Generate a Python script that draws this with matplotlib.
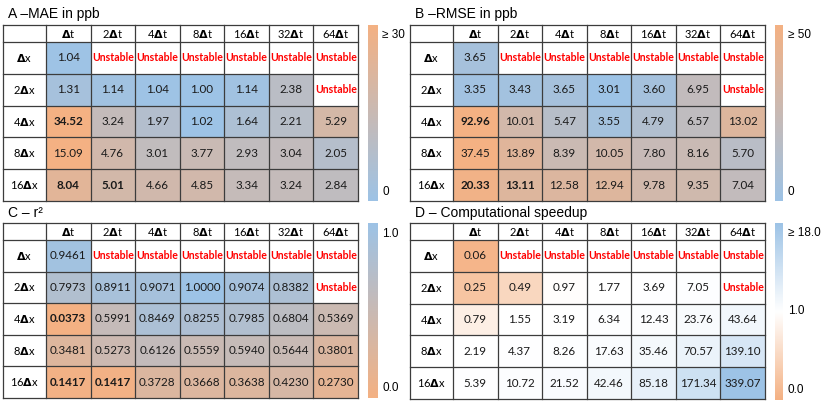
import numpy as np
import matplotlib.pyplot as plt
from matplotlib.colors import LinearSegmentedColormap, LogNorm, Normalize, TwoSlopeNorm

nan = np.nan

# --- data (NaN = "Unstable") ---
col_labels = [r'$\mathbf{\Delta}$t', r'2$\mathbf{\Delta}$t', r'4$\mathbf{\Delta}$t', r'8$\mathbf{\Delta}$t',
              r'16$\mathbf{\Delta}$t', r'32$\mathbf{\Delta}$t', r'64$\mathbf{\Delta}$t']
row_labels = [r'$\mathbf{\Delta}$x', r'2$\mathbf{\Delta}$x', r'4$\mathbf{\Delta}$x',
              r'8$\mathbf{\Delta}$x', r'16$\mathbf{\Delta}$x']

mae = [[1.04, nan, nan, nan, nan, nan, nan],
       [1.31, 1.14, 1.04, 1.00, 1.14, 2.38, nan],
       [34.52, 3.24, 1.97, 1.02, 1.64, 2.21, 5.29],
       [15.09, 4.76, 3.01, 3.77, 2.93, 3.04, 2.05],
       [8.04, 5.01, 4.66, 4.85, 3.34, 3.24, 2.84]]

rmse = [[3.65, nan, nan, nan, nan, nan, nan],
        [3.35, 3.43, 3.65, 3.01, 3.60, 6.95, nan],
        [92.96, 10.01, 5.47, 3.55, 4.79, 6.57, 13.02],
        [37.45, 13.89, 8.39, 10.05, 7.80, 8.16, 5.70],
        [20.33, 13.11, 12.58, 12.94, 9.78, 9.35, 7.04]]

r2 = [[0.9461, nan, nan, nan, nan, nan, nan],
      [0.7973, 0.8911, 0.9071, 1.0000, 0.9074, 0.8382, nan],
      [0.0373, 0.5991, 0.8469, 0.8255, 0.7985, 0.6804, 0.5369],
      [0.3481, 0.5273, 0.6126, 0.5559, 0.5940, 0.5644, 0.3801],
      [0.1417, 0.1417, 0.3728, 0.3668, 0.3638, 0.4230, 0.2730]]

speedup = [[0.06, nan, nan, nan, nan, nan, nan],
           [0.25, 0.49, 0.97, 1.77, 3.69, 7.05, nan],
           [0.79, 1.55, 3.19, 6.34, 12.43, 23.76, 43.64],
           [2.19, 4.37, 8.26, 17.63, 35.46, 70.57, 139.10],
           [5.39, 10.72, 21.52, 42.46, 85.18, 171.34, 339.07]]

# highlighted (bold) cells, (row, col)
bold_err = [(2, 0), (4, 0), (4, 1)]

BLUE = '#9dc3e6'
ORANGE = '#f4b183'
LINE = '#3c3c3c'
CELL_FONT = ['Lato', 'DejaVu Sans']
LABEL_FONT = ['Liberation Sans', 'DejaVu Sans']
FS = 8.4

cmap_err = LinearSegmentedColormap.from_list('err', [BLUE, ORANGE])
cmap_r2 = LinearSegmentedColormap.from_list('r2', [ORANGE, BLUE])
cmap_sp = LinearSegmentedColormap.from_list('sp', [ORANGE, 'white', BLUE])
for c in (cmap_err, cmap_r2, cmap_sp):
    c.set_bad('white')

W, H = 830, 405
fig = plt.figure(figsize=(8.3, 4.05), dpi=100)


def px_axes(x0, y0, x1, y1):
    return fig.add_axes([x0 / W, 1 - y1 / H, (x1 - x0) / W, (y1 - y0) / H])


def draw_table(box, values, norm, cmap, fmt, bold):
    ax = px_axes(*box)
    w = box[2] - box[0]
    h = box[3] - box[1]
    xe = np.linspace(43, w, 8)
    ye = np.linspace(17, h, 6)
    data = np.ma.masked_invalid(np.array(values))
    ax.pcolormesh(xe, ye, data, cmap=cmap, norm=norm)
    ax.set_xlim(0, w)
    ax.set_ylim(h, 0)
    ax.axis('off')

    for x in np.r_[0, xe]:
        ax.plot([x, x], [0, h], color=LINE, lw=0.9, clip_on=False)
    for y in np.r_[0, ye]:
        ax.plot([0, w], [y, y], color=LINE, lw=0.9, clip_on=False)

    for j, lab in enumerate(col_labels):
        ax.text((xe[j] + xe[j + 1]) / 2, 8.5, lab, ha='center', va='center',
                fontsize=FS - 0.4, family=CELL_FONT)
    for i, lab in enumerate(row_labels):
        yc = (ye[i] + ye[i + 1]) / 2
        ax.text(21.5, yc, lab, ha='center', va='center', fontsize=FS - 0.4, family=CELL_FONT)
        for j in range(7):
            xc = (xe[j] + xe[j + 1]) / 2
            v = values[i][j]
            if np.isnan(v):
                ax.text(xc, yc, 'Unstable', ha='center', va='center', fontsize=7.6,
                        family=CELL_FONT, color='#ff0000', fontweight='bold')
            else:
                ax.text(xc, yc, fmt.format(v), ha='center', va='center', fontsize=FS,
                        family=CELL_FONT, color='#1a1a1a',
                        fontweight='bold' if (i, j) in bold else 'normal')
    return ax


def draw_cbar(box, cmap, labels):
    cax = px_axes(*box)
    grad = np.linspace(0, 1, 256)[:, None]
    cax.imshow(grad, cmap=cmap, aspect='auto', origin='lower', extent=[0, 1, 0, 1])
    cax.axis('off')
    h = box[3] - box[1]
    for txt, ypx in labels:
        cax.text((box[2] - box[0] + 5) / (box[2] - box[0]), 1 - (ypx - box[1]) / h, txt,
                 transform=cax.transAxes, ha='left', va='center', fontsize=8.5,
                 family=LABEL_FONT)


# A - MAE
fig.text(8 / W, 1 - 14 / H, 'A –MAE in ppb', fontsize=10, family=LABEL_FONT, va='center')
draw_table((3, 25, 358, 201), mae, LogNorm(vmin=1, vmax=14, clip=True), cmap_err, '{:.2f}', bold_err)
draw_cbar((368, 25, 377, 201), cmap_err, [('≥ 30', 35), ('0', 192)])

# B - RMSE
fig.text(415 / W, 1 - 14 / H, 'B –RMSE in ppb', fontsize=10, family=LABEL_FONT, va='center')
draw_table((410, 25, 765, 201), rmse, LogNorm(vmin=3, vmax=22, clip=True), cmap_err, '{:.2f}', bold_err)
draw_cbar((775, 25, 783, 201), cmap_err, [('≥ 50', 35), ('0', 192)])

# C - r2
fig.text(8 / W, 1 - 213 / H, 'C – r²', fontsize=10, family=LABEL_FONT, va='center')
draw_table((3, 223, 358, 398), r2, Normalize(vmin=0.12, vmax=1.0, clip=True), cmap_r2, '{:.4f}', bold_err)
draw_cbar((368, 223, 377, 398), cmap_r2, [('1.0', 234), ('0.0', 388)])

# D - speedup
fig.text(415 / W, 1 - 213 / H, 'D – Computational speedup', fontsize=10, family=LABEL_FONT, va='center')
draw_table((410, 223, 765, 399), speedup, TwoSlopeNorm(vmin=0, vcenter=1, vmax=339.07), cmap_sp, '{:.2f}', [])
draw_cbar((775, 223, 783, 400), cmap_sp, [('≥ 18.0', 233), ('1.0', 311), ('0.0', 390)])

fig.savefig('out.png', dpi=100)
